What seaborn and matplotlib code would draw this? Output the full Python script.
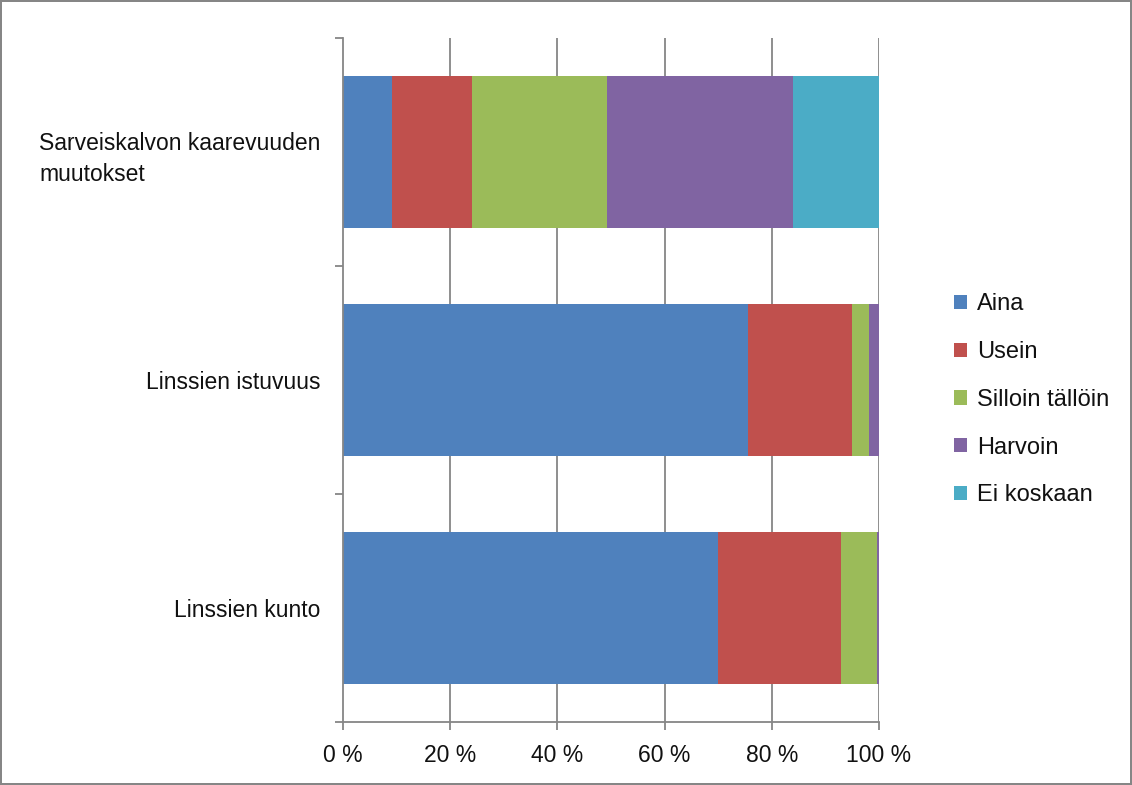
import matplotlib
matplotlib.use("Agg")
import matplotlib.pyplot as plt
import seaborn as sns
import numpy as np
import pandas as pd
from matplotlib.patches import Patch

categories = ["Sarveiskalvon kaarevuuden\nmuutokset", "Linssien istuvuus", "Linssien kunto"]
series_names = ["Aina", "Usein", "Silloin tällöin", "Harvoin", "Ei koskaan"]
aina = [9.2, 75.6, 69.9]
usein = [14.9, 19.4, 23.0]
silloin = [25.2, 3.1, 6.8]
harvoin = [34.7, 1.9, 0.3]
ei_koskaan = [16.0, 0.0, 0.0]
colors = ["#4F81BD", "#C0504D", "#9BBB59", "#8064A2", "#4BACC6"]
xtick_labels = ["0 %", "20 %", "40 %", "60 %", "80 %", "100 %"]

sns.set_style("white")
plt.rcParams['font.family'] = ['Liberation Sans', 'DejaVu Sans']

values = np.array([aina, usein, silloin, harvoin, ei_koskaan])
cum = np.cumsum(values, axis=0)

fig = plt.figure(figsize=(11.32, 7.85), dpi=100)
fig.patch.set_edgecolor("#868686")
fig.patch.set_linewidth(1.5)
ax = fig.add_axes([343/1132, 63/785, 536/1132, 684/785])

for xv in range(20, 101, 20):
    ax.axvline(xv, color="#868686", lw=1.3, zorder=0)

for i in range(len(series_names) - 1, -1, -1):
    df = pd.DataFrame({"cat": categories, "val": cum[i]})
    sns.barplot(data=df, x="val", y="cat", orient="h", color=colors[i],
                width=0.67, saturation=1, ax=ax, zorder=2, linewidth=0)

ax.set_xlim(0, 100)
ax.set_ylim(2.5, -0.5)
ax.set_xlabel("")
ax.set_ylabel("")
ax.set_xticks(range(0, 101, 20))
ax.set_xticklabels(xtick_labels, fontsize=16.5, color="#111111")
ax.set_yticks(range(3))
ax.set_yticklabels(categories, fontsize=16.5, ha="right", multialignment="left",
                   linespacing=1.45, color="#111111")
ax.tick_params(axis="y", length=0, pad=16)
ax.set_yticks([-0.5, 0.5, 1.5, 2.5], minor=True)
ax.tick_params(axis="y", which="minor", length=6, color="#868686", width=1.3)
ax.tick_params(axis="x", length=6, color="#868686", width=1.3, direction="out", pad=10)
for s in ["top", "right"]:
    ax.spines[s].set_visible(False)
for s in ["left", "bottom"]:
    ax.spines[s].set_color("#868686")
    ax.spines[s].set_linewidth(1.3)
ax.xaxis.set_ticks_position("bottom")
ax.yaxis.set_ticks_position("left")

handles = [Patch(facecolor=c, edgecolor="none") for c in colors]
fig.legend(handles, series_names, loc="upper left", bbox_to_anchor=(945/1132, 1 - 284/785),
           frameon=False, fontsize=17, handlelength=0.55, handleheight=0.55,
           handletextpad=0.4, labelspacing=1.09, borderaxespad=0,
           labelcolor="#111111")

fig.savefig("out.png", dpi=100, edgecolor=fig.get_edgecolor())
